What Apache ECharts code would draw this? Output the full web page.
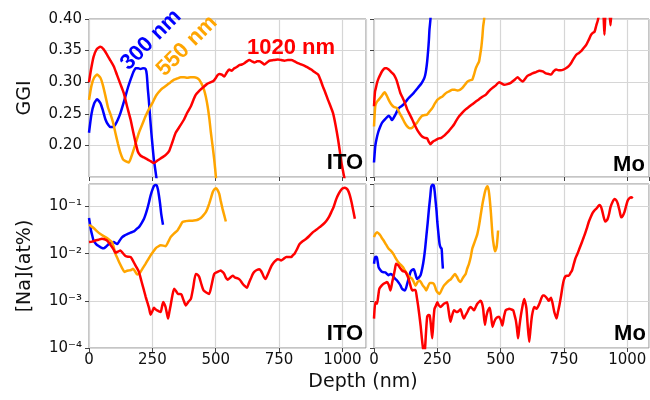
<!DOCTYPE html>
<html>
<head>
<meta charset="utf-8">
<script src="https://cdn.jsdelivr.net/npm/echarts@6.0.0/dist/echarts.min.js"></script>
<style>
  html, body { margin: 0; padding: 0; background: #fff; }
  #chart { width: 650px; height: 400px; }
</style>
</head>
<body>
<div id="chart"></div>
<script>
// depth (nm) / value pairs
const itoGgi300 = [[0,0.22],[10,0.25],[20,0.266],[32,0.273],[45,0.267],[55,0.255],[65,0.241],[75,0.233],[85,0.229],[95,0.229],[104,0.233],[114,0.241],[124,0.251],[134,0.264],[144,0.278],[154,0.292],[164,0.304],[174,0.315],[184,0.322],[194,0.322],[203,0.321],[213,0.322],[223,0.321],[228,0.312],[232,0.29],[236,0.272],[241,0.245],[246,0.22],[251,0.198],[256,0.178],[267,0.146]]
const itoGgi550 = [[0,0.272],[10,0.295],[20,0.307],[32,0.312],[45,0.307],[55,0.295],[65,0.278],[75,0.26],[85,0.249],[95,0.236],[104,0.22],[114,0.203],[124,0.188],[134,0.178],[144,0.175],[157,0.173],[167,0.182],[177,0.194],[187,0.207],[197,0.22],[210,0.233],[223,0.246],[236,0.257],[250,0.267],[265,0.279],[283,0.288],[296,0.292],[309,0.296],[322,0.3],[336,0.304],[349,0.306],[362,0.308],[375,0.308],[388,0.307],[401,0.308],[415,0.308],[425,0.307],[435,0.304],[445,0.297],[454,0.288],[461,0.277],[468,0.262],[475,0.242],[481,0.22],[488,0.198],[494,0.178],[501,0.149],[506,0.12]]
const itoGgi1020 = [[0,0.30],[8,0.32],[18,0.34],[30,0.352],[45,0.356],[58,0.352],[72,0.343],[85,0.334],[98,0.325],[110,0.312],[124,0.297],[137,0.283],[150,0.262],[164,0.241],[174,0.222],[184,0.204],[193,0.19],[203,0.184],[216,0.181],[230,0.178],[243,0.175],[256,0.172],[270,0.176],[289,0.181],[303,0.185],[316,0.191],[329,0.205],[342,0.22],[358,0.23],[375,0.241],[388,0.252],[402,0.262],[412,0.272],[421,0.28],[434,0.286],[448,0.291],[465,0.297],[481,0.30],[491,0.302],[501,0.307],[507,0.311],[514,0.313],[524,0.312],[534,0.309],[543,0.315],[553,0.32],[563,0.318],[573,0.322],[583,0.324],[593,0.327],[603,0.328],[613,0.33],[623,0.333],[633,0.335],[643,0.333],[653,0.331],[663,0.333],[672,0.333],[682,0.331],[692,0.328],[702,0.331],[712,0.334],[728,0.335],[745,0.336],[758,0.335],[771,0.334],[785,0.335],[798,0.335],[811,0.333],[824,0.33],[838,0.328],[851,0.326],[864,0.323],[877,0.32],[890,0.316],[904,0.312],[914,0.303],[923,0.293],[933,0.283],[943,0.272],[953,0.262],[963,0.251],[973,0.232],[983,0.209],[990,0.19],[996,0.173],[1003,0.158],[1009,0.146],[1015,0.13]]

const moGgi300 = [[0,0.173],[5,0.199],[10,0.21],[16,0.22],[24,0.229],[32,0.236],[45,0.242],[58,0.247],[65,0.244],[71,0.24],[78,0.244],[85,0.249],[92,0.255],[98,0.259],[108,0.262],[117,0.265],[127,0.27],[137,0.275],[147,0.279],[157,0.283],[167,0.288],[177,0.293],[187,0.298],[197,0.305],[202,0.311],[206,0.32],[210,0.333],[214,0.351],[217,0.368],[219,0.383],[223,0.40],[228,0.45]]
const moGgi550 = [[0,0.23],[5,0.262],[10,0.268],[18,0.272],[30,0.278],[42,0.284],[50,0.279],[58,0.272],[68,0.265],[78,0.261],[91,0.259],[100,0.252],[111,0.244],[121,0.236],[131,0.23],[141,0.227],[151,0.228],[160,0.232],[170,0.236],[180,0.242],[190,0.247],[200,0.248],[210,0.249],[220,0.254],[230,0.259],[240,0.266],[250,0.272],[260,0.275],[269,0.277],[279,0.281],[289,0.284],[299,0.286],[309,0.288],[319,0.288],[329,0.287],[339,0.288],[349,0.291],[359,0.296],[369,0.301],[378,0.303],[388,0.304],[395,0.312],[402,0.322],[409,0.328],[415,0.333],[420,0.345],[424,0.356],[428,0.372],[431,0.388],[435,0.40],[440,0.45]]
const moGgi1020 = [[0,0.262],[4,0.285],[8,0.292],[12,0.299],[18,0.306],[25,0.312],[33,0.318],[42,0.322],[50,0.322],[58,0.32],[68,0.316],[78,0.312],[85,0.307],[91,0.301],[98,0.291],[104,0.283],[111,0.277],[117,0.272],[124,0.265],[131,0.257],[141,0.249],[151,0.241],[160,0.233],[170,0.225],[180,0.219],[190,0.214],[200,0.212],[210,0.211],[216,0.206],[223,0.202],[230,0.205],[236,0.207],[246,0.209],[256,0.211],[266,0.212],[276,0.215],[286,0.219],[296,0.223],[306,0.228],[316,0.233],[326,0.24],[336,0.246],[349,0.252],[362,0.257],[375,0.261],[388,0.265],[401,0.269],[415,0.273],[428,0.277],[441,0.28],[454,0.286],[468,0.291],[481,0.295],[494,0.30],[504,0.298],[514,0.296],[527,0.297],[540,0.299],[553,0.303],[567,0.308],[577,0.304],[587,0.301],[596,0.305],[606,0.31],[616,0.312],[626,0.314],[640,0.316],[653,0.318],[666,0.317],[679,0.314],[689,0.313],[699,0.312],[709,0.317],[719,0.32],[729,0.319],[738,0.319],[748,0.32],[758,0.322],[768,0.325],[778,0.33],[788,0.337],[798,0.343],[808,0.346],[818,0.349],[828,0.354],[838,0.359],[848,0.367],[857,0.375],[864,0.378],[871,0.38],[878,0.39],[884,0.398],[890,0.41],[900,0.43],[906,0.41],[910,0.375],[914,0.41],[920,0.43],[928,0.42],[934,0.39],[939,0.42],[950,0.45]]

const itoNa300 = [[0,0.057],[4,0.042],[8,0.031],[13,0.024],[18,0.019],[28,0.016],[38,0.0145],[48,0.0135],[58,0.013],[68,0.0142],[78,0.016],[88,0.0172],[98,0.0176],[104,0.0168],[111,0.016],[121,0.019],[131,0.0224],[141,0.0245],[151,0.026],[164,0.028],[177,0.0296],[187,0.033],[197,0.0365],[207,0.044],[217,0.055],[224,0.07],[230,0.089],[237,0.125],[243,0.171],[250,0.225],[256,0.27],[262,0.285],[267,0.28],[272,0.23],[276,0.171],[281,0.11],[285,0.07],[292,0.041]]
const itoNa550 = [[0,0.041],[9,0.038],[18,0.035],[31,0.03],[45,0.026],[58,0.0235],[71,0.0214],[81,0.0195],[91,0.0176],[98,0.0135],[104,0.01],[113,0.0078],[122,0.0061],[131,0.0049],[140,0.0041],[148,0.0043],[157,0.0044],[166,0.0045],[174,0.0048],[182,0.0042],[190,0.0036],[197,0.0038],[203,0.0041],[213,0.005],[223,0.0061],[233,0.0075],[243,0.0092],[253,0.011],[263,0.013],[273,0.0142],[283,0.015],[293,0.0148],[302,0.0144],[312,0.0175],[322,0.0224],[336,0.027],[349,0.031],[359,0.038],[369,0.047],[382,0.049],[395,0.05],[408,0.05],[421,0.051],[431,0.053],[441,0.057],[451,0.065],[461,0.076],[468,0.092],[474,0.114],[481,0.15],[488,0.2],[494,0.23],[501,0.245],[507,0.225],[514,0.185],[520,0.13],[527,0.089],[534,0.064],[540,0.048]]
const itoNa1020 = [[0,0.0176],[12,0.018],[25,0.019],[38,0.0198],[51,0.0207],[61,0.0202],[71,0.019],[81,0.0165],[91,0.0138],[98,0.012],[104,0.0105],[114,0.011],[124,0.0117],[134,0.0102],[144,0.0089],[154,0.0086],[164,0.0085],[170,0.0077],[177,0.0065],[187,0.0052],[197,0.0041],[207,0.0026],[217,0.00166],[224,0.0012],[230,0.00094],[237,0.0007],[243,0.00051],[250,0.0006],[256,0.00071],[262,0.00066],[269,0.00063],[276,0.0006],[283,0.00058],[288,0.00075],[293,0.00094],[298,0.00085],[302,0.00074],[307,0.00055],[312,0.00042],[317,0.00058],[322,0.0008],[329,0.0013],[336,0.0018],[344,0.0016],[351,0.0014],[358,0.0014],[365,0.00135],[374,0.001],[382,0.0008],[392,0.00095],[402,0.0011],[411,0.0019],[421,0.0037],[428,0.0036],[435,0.0032],[444,0.0022],[452,0.00166],[463,0.0015],[474,0.0014],[484,0.0022],[494,0.0037],[507,0.0041],[520,0.0044],[527,0.0041],[534,0.0037],[540,0.0031],[547,0.0028],[557,0.0031],[567,0.0034],[577,0.0031],[587,0.003],[595,0.0028],[604,0.0024],[613,0.0021],[623,0.0019],[631,0.0024],[639,0.003],[645,0.0036],[652,0.0041],[662,0.0045],[672,0.0047],[679,0.0043],[685,0.0037],[690,0.0032],[696,0.0029],[704,0.0035],[712,0.0044],[720,0.0055],[729,0.0065],[737,0.0072],[745,0.0076],[752,0.0075],[758,0.0072],[768,0.0078],[778,0.0085],[788,0.0085],[798,0.0085],[804,0.0092],[811,0.01],[821,0.0125],[831,0.016],[844,0.0185],[857,0.0207],[870,0.024],[884,0.0286],[897,0.032],[910,0.0365],[924,0.042],[937,0.05],[947,0.06],[956,0.076],[966,0.1],[976,0.145],[986,0.19],[996,0.23],[1003,0.245],[1009,0.25],[1016,0.24],[1022,0.22],[1029,0.175],[1036,0.123],[1042,0.085],[1049,0.055]]

const moNa300 = [[0,0.0061],[3,0.0078],[5,0.0085],[9,0.0086],[12,0.0081],[15,0.0065],[18,0.0052],[25,0.0045],[32,0.0041],[45,0.004],[52,0.0037],[58,0.0035],[65,0.0037],[71,0.0036],[78,0.0032],[85,0.0029],[91,0.0027],[98,0.0024],[105,0.0021],[111,0.0018],[117,0.0017],[122,0.00166],[127,0.0019],[131,0.0023],[137,0.003],[144,0.0041],[150,0.0045],[157,0.0047],[163,0.0038],[170,0.0029],[177,0.0031],[184,0.0035],[191,0.005],[197,0.0078],[202,0.013],[207,0.0244],[212,0.045],[217,0.089],[222,0.16],[226,0.26],[231,0.29],[236,0.28],[240,0.2],[243,0.134],[247,0.08],[250,0.047],[255,0.025],[259,0.016],[263,0.0135],[267,0.0128],[270,0.007],[272,0.0048]]
const moNa550 = [[0,0.0224],[5,0.026],[12,0.0286],[18,0.027],[25,0.0244],[31,0.0215],[38,0.019],[48,0.0155],[58,0.0127],[65,0.0117],[71,0.0108],[78,0.0095],[85,0.0081],[91,0.0072],[98,0.0064],[106,0.0058],[114,0.0052],[122,0.0044],[131,0.0037],[141,0.0032],[151,0.0029],[157,0.0025],[164,0.0021],[172,0.0025],[180,0.0027],[187,0.0024],[193,0.0021],[200,0.0019],[206,0.00166],[213,0.002],[220,0.0024],[228,0.0024],[236,0.0023],[241,0.002],[246,0.00166],[252,0.0015],[259,0.0014],[267,0.0017],[276,0.0021],[286,0.0024],[296,0.0027],[304,0.0029],[312,0.0033],[320,0.0037],[328,0.0032],[335,0.0027],[342,0.0025],[350,0.003],[357,0.0034],[362,0.0037],[368,0.0048],[375,0.0061],[382,0.0085],[388,0.0127],[398,0.018],[408,0.026],[415,0.04],[421,0.064],[428,0.11],[435,0.17],[441,0.23],[448,0.27],[453,0.22],[457,0.145],[462,0.07],[468,0.0244],[473,0.015],[478,0.0112],[482,0.0125],[485,0.0149],[488,0.022],[490,0.031]]
const moNa1020 = [[0,0.00042],[5,0.00093],[9,0.0009],[12,0.00087],[17,0.0013],[21,0.0018],[30,0.0021],[38,0.0023],[45,0.0024],[51,0.0025],[58,0.0022],[65,0.00166],[72,0.0025],[78,0.0035],[83,0.0048],[87,0.0061],[93,0.0058],[98,0.0055],[104,0.0049],[111,0.0044],[117,0.0042],[124,0.0041],[131,0.0035],[137,0.0029],[144,0.0021],[151,0.00166],[158,0.0017],[164,0.0017],[169,0.0012],[174,0.0008],[179,0.0005],[184,0.0003],[189,0.00016],[193,0.000105],[197,0.00008],[201,0.00009],[205,0.0002],[210,0.00046],[215,0.0005],[220,0.00049],[225,0.0003],[230,0.00016],[235,0.0004],[239,0.00068],[245,0.0008],[250,0.00093],[256,0.0008],[263,0.00074],[270,0.0008],[276,0.00087],[283,0.0009],[289,0.00093],[295,0.0006],[302,0.00036],[309,0.0005],[316,0.00063],[322,0.0006],[329,0.00058],[336,0.00062],[342,0.00066],[349,0.0005],[355,0.00042],[362,0.0005],[369,0.00058],[375,0.00068],[382,0.00074],[389,0.00068],[395,0.00063],[402,0.00075],[408,0.00087],[415,0.00095],[421,0.001],[426,0.0009],[431,0.00068],[438,0.00031],[443,0.00045],[448,0.00058],[452,0.00065],[457,0.00071],[462,0.0005],[468,0.00028],[474,0.00035],[481,0.00042],[488,0.00045],[494,0.00046],[500,0.0004],[507,0.0003],[513,0.00045],[520,0.00063],[527,0.00066],[534,0.00068],[542,0.00066],[550,0.00063],[555,0.0005],[560,0.00039],[565,0.00025],[569,0.00016],[574,0.00028],[580,0.00049],[587,0.0008],[593,0.0011],[598,0.0009],[602,0.00068],[607,0.0003],[613,0.000135],[618,0.00025],[624,0.00049],[633,0.00074],[642,0.00068],[653,0.00087],[660,0.0011],[666,0.0013],[672,0.0013],[679,0.0012],[685,0.0011],[690,0.001],[695,0.0011],[699,0.00116],[705,0.0009],[712,0.00058],[717,0.00048],[721,0.00042],[727,0.0006],[732,0.0008],[739,0.0013],[745,0.0021],[750,0.0028],[756,0.0033],[762,0.0034],[769,0.0034],[776,0.0039],[782,0.0044],[789,0.006],[795,0.0078],[803,0.0098],[811,0.0127],[821,0.0175],[831,0.0244],[840,0.034],[848,0.047],[856,0.06],[864,0.074],[870,0.082],[877,0.089],[884,0.099],[890,0.108],[896,0.1],[901,0.082],[907,0.06],[913,0.048],[918,0.05],[923,0.055],[929,0.072],[934,0.097],[942,0.125],[950,0.145],[957,0.135],[963,0.114],[970,0.08],[976,0.059],[982,0.063],[989,0.076],[995,0.1],[1002,0.134],[1009,0.15],[1016,0.158],[1022,0.15]]

const xTicks = [0, 250, 500, 750, 1000]
const sup = { '-': '\u207b', '1': '\u00b9', '2': '\u00b2', '3': '\u00b3', '4': '\u2074' }

const blue = '#0000ff'
const orange = '#ffa500'
const red = '#ff0000'
const gridColor = '#d6d6d6'
const font = 'DejaVu Sans'

const chart = echarts.init(document.getElementById('chart'))

function xAxis(gridIndex, max, showLabels) {
  return {
    type: 'value',
    gridIndex: gridIndex,
    min: 0,
    max: max,
    interval: 250,
    axisLine: { show: false },
    axisTick: { show: true, length: 4, lineStyle: { color: '#444' } },
    axisLabel: {
      show: showLabels,
      showMaxLabel: false,
      fontFamily: font,
      fontSize: 15,
      color: '#111',
      margin: 5,
      formatter: function(v) { return xTicks.indexOf(v) >= 0 ? String(v) : '' }
    },
    splitLine: { show: true, lineStyle: { color: gridColor, width: 1.2 } }
  }
}

function ggiAxis(gridIndex, showLabels) {
  return {
    type: 'value',
    gridIndex: gridIndex,
    min: 0.15,
    max: 0.40,
    interval: 0.05,
    name: showLabels ? 'GGI' : '',
    nameLocation: 'middle',
    nameGap: 54,
    nameTextStyle: { fontFamily: font, fontSize: 19, color: '#111' },
    axisLine: { show: false },
    axisTick: { show: true, length: 4, lineStyle: { color: '#444' } },
    axisLabel: {
      show: showLabels,
      showMinLabel: false,
      fontFamily: font,
      fontSize: 15,
      color: '#111',
      margin: 7,
      formatter: function(v) { return v.toFixed(2) }
    },
    splitLine: { show: true, lineStyle: { color: gridColor, width: 1.2 } }
  }
}

function naAxis(gridIndex, showLabels) {
  return {
    type: 'log',
    logBase: 10,
    gridIndex: gridIndex,
    min: 0.0001,
    max: 0.3,
    name: showLabels ? '[Na](at%)' : '',
    nameLocation: 'middle',
    nameGap: 54,
    nameTextStyle: { fontFamily: font, fontSize: 19, color: '#111' },
    axisLine: { show: false },
    axisTick: { show: true, length: 4, lineStyle: { color: '#444' } },
    axisLabel: {
      show: showLabels,
      showMaxLabel: false,
      fontFamily: font,
      fontSize: 15,
      color: '#111',
      margin: 7,
      formatter: function(v) {
        const e = Math.round(Math.log10(v))
        if (Math.abs(Math.log10(v) - e) > 1e-6) return ''
        return '10' + String(e).split('').map(function(c) { return sup[c] }).join('')
      }
    },
    splitLine: { show: true, lineStyle: { color: gridColor, width: 1.2 } }
  }
}

function line(data, color, axisIndex) {
  return {
    type: 'line',
    xAxisIndex: axisIndex,
    yAxisIndex: axisIndex,
    data: data,
    showSymbol: false,
    smooth: 0.2,
    clip: true,
    lineStyle: { color: color, width: 2.5 },
    itemStyle: { color: color },
    animation: false
  }
}

function label(text, x, y, color, size, rotation) {
  return {
    type: 'text',
    x: x,
    y: y,
    rotation: rotation || 0,
    z: 100,
    style: {
      text: text,
      fill: color,
      font: 'bold ' + size + 'px "Liberation Sans", Arial, sans-serif',
      align: 'center',
      verticalAlign: 'middle'
    }
  }
}

const frame = { show: true, borderColor: '#8a8a8a', borderWidth: 1, backgroundColor: 'transparent' }

chart.setOption({
  animation: false,
  grid: [
    Object.assign({ left: 89, top: 19, width: 277, height: 158 }, frame),
    Object.assign({ left: 374, top: 19, width: 275, height: 158 }, frame),
    Object.assign({ left: 89, top: 184, width: 277, height: 164 }, frame),
    Object.assign({ left: 374, top: 184, width: 275, height: 164 }, frame)
  ],
  xAxis: [
    xAxis(0, 1093, false),
    xAxis(1, 1086, false),
    xAxis(2, 1093, true),
    xAxis(3, 1086, true)
  ],
  yAxis: [
    ggiAxis(0, true),
    ggiAxis(1, false),
    naAxis(2, true),
    naAxis(3, false)
  ],
  series: [
    line(itoGgi300, blue, 0),
    line(itoGgi550, orange, 0),
    line(itoGgi1020, red, 0),
    line(moGgi300, blue, 1),
    line(moGgi550, orange, 1),
    line(moGgi1020, red, 1),
    line(itoNa300, blue, 2),
    line(itoNa550, orange, 2),
    line(itoNa1020, red, 2),
    line(moNa300, blue, 3),
    line(moNa550, orange, 3),
    line(moNa1020, red, 3)
  ],
  graphic: [
    label('300 nm', 151, 40, blue, 22, Math.PI / 4),
    label('550 nm', 187, 46, orange, 22, Math.PI / 4),
    label('1020 nm', 291, 48, red, 22, 0),
    label('ITO', 345, 163, '#000', 22, 0),
    label('Mo', 629, 165, '#000', 22, 0),
    label('ITO', 345, 334, '#000', 22, 0),
    label('Mo', 630, 334, '#000', 22, 0),
    {
      type: 'text',
      x: 363,
      y: 382,
      style: {
        text: 'Depth (nm)',
        fill: '#111',
        font: '19px "DejaVu Sans"',
        align: 'center',
        verticalAlign: 'middle'
      }
    }
  ]
})
</script>
</body>
</html>
